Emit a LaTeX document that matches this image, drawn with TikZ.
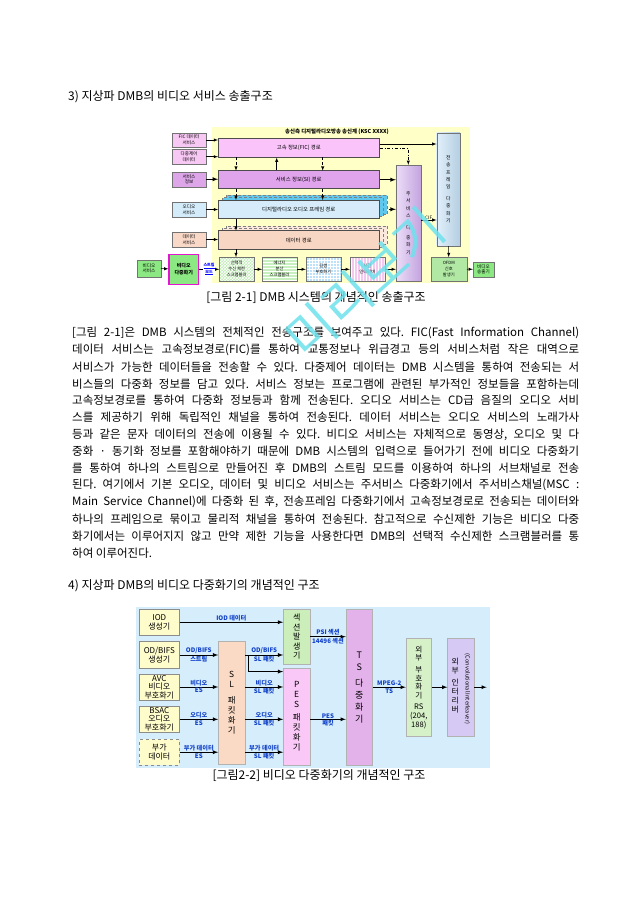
\documentclass[tikz,border=0pt]{standalone}
\usepackage{fontspec}
\setmainfont{Noto Sans CJK KR}
\usetikzlibrary{patterns}

\definecolor{ylwbg}{RGB}{255,255,200}
\definecolor{ficin}{RGB}{248,200,244}
\definecolor{siin}{RGB}{220,166,232}
\definecolor{audin}{RGB}{212,236,250}
\definecolor{datin}{RGB}{250,216,200}
\definecolor{ficc}{RGB}{250,196,250}
\definecolor{sic}{RGB}{224,164,236}
\definecolor{audc}{RGB}{214,236,250}
\definecolor{audsh}{RGB}{96,200,236}
\definecolor{datc}{RGB}{248,214,196}
\definecolor{datsh}{RGB}{252,232,220}
\definecolor{vgreen}{RGB}{140,232,130}
\definecolor{vmag}{RGB}{230,20,210}
\definecolor{scag}{RGB}{190,236,180}
\definecolor{engg}{RGB}{200,240,190}
\definecolor{cnvb}{RGB}{190,225,250}
\definecolor{tilp}{RGB}{245,200,240}
\definecolor{msmL}{RGB}{236,222,248}
\definecolor{msmR}{RGB}{196,164,224}
\definecolor{tfmL}{RGB}{226,240,250}
\definecolor{tfmR}{RGB}{180,206,226}
\definecolor{ofdmg}{RGB}{176,232,164}
\definecolor{wmcyan}{RGB}{110,226,236}
\definecolor{blubg}{RGB}{214,238,252}
\definecolor{ylwbox}{RGB}{255,252,204}
\definecolor{slc}{RGB}{250,218,196}
\definecolor{secc}{RGB}{204,238,186}
\definecolor{pesc}{RGB}{250,200,246}
\definecolor{tsc}{RGB}{228,178,234}
\definecolor{rsc}{RGB}{214,240,200}
\definecolor{itlc}{RGB}{214,202,244}
\definecolor{lblue}{RGB}{16,64,200}

\tikzset{
  bodytxt/.style={inner sep=0pt, font=\fontsize{11.5}{13}\selectfont\frenchspacing},
  headtxt/.style={inner sep=0pt, font=\fontsize{12}{13}\selectfont},
  inbox/.style={draw=black!55, line width=0.3pt, minimum width=34pt, align=center, inner sep=0pt,
    font=\fontsize{4.6}{5.6}\selectfont},
  pathbox/.style={draw=black!70, line width=0.5pt, minimum width=161pt, inner sep=0pt,
    font=\fontsize{5.4}{6}\selectfont},
  rowbox/.style={draw=black!55, line width=0.3pt, minimum width=34.7pt, minimum height=24pt,
    align=center, inner sep=0pt, font=\fontsize{4.3}{6}\selectfont},
  tallbox/.style={draw=black!55, line width=0.3pt, align=center, inner sep=0pt,
    font=\fontsize{4.8}{7.2}\selectfont},
  thin/.style={->, line width=0.5pt},
  srcbox/.style={draw=black!45, line width=0.4pt, fill=ylwbox, minimum width=40pt, align=center,
    inner sep=0pt, font=\fontsize{8}{8.6}\selectfont},
  stackbox/.style={draw=black!30, line width=0.4pt, align=center, inner sep=0pt,
    font=\fontsize{8.4}{10}\selectfont},
  conn/.style={->, line width=0.8pt},
  lbl/.style={text=lblue, inner sep=0.8pt, font=\fontsize{6.2}{6.6}\selectfont\bfseries}
}

\newcommand\bodyline[2]{\node[bodytxt, anchor=west] (b#1) at (72,{333+16.9*(#1-1)}) {\makebox[507pt][s]{#2}};}

\begin{document}
\begin{tikzpicture}[x=1pt, y=-1pt, >=latex]
\fill[white] (0,0) rectangle (640,905);
\useasboundingbox (0,0) rectangle (640,905);

\node[headtxt, anchor=west] (h1) at (68,97) {3) 지상파 DMB의 비디오 서비스 송출구조};

% ---- Figure 2-1 ----
\fill[ylwbg] (212,127) rectangle (470,283);
\node[font=\fontsize{5.4}{6}\selectfont\bfseries] (ttl) at (337,132) {송신측 디지털라디오방송 송신계 (KSC XXXX)};

\foreach \d in {8,4}{
  \draw[fill=audsh, draw=black!50, line width=0.3pt, densely dashed] (218.3+\d,200-0.6*\d) rectangle (379.3+\d,218.7-0.6*\d);
  \draw[fill=datsh, draw=black!50, line width=0.3pt, densely dashed] (218.3+\d,230.7-0.6*\d) rectangle (379.3+\d,249.3-0.6*\d);
}

\node[inbox, fill=ficin, minimum height=14.6pt] (fin) at (189,140) {FIC 데이터\\서비스};
\node[inbox, fill=ficin, minimum height=14.7pt] (mux) at (189,156.7) {다중제어\\데이터};
\node[inbox, fill=siin, minimum height=15pt] (sin) at (189,179.2) {서비스\\정보};
\node[inbox, fill=audin, minimum height=15.6pt] (ain) at (189,209.5) {오디오\\서비스};
\node[inbox, fill=datin, minimum height=15.6pt] (din) at (189,239.5) {데이터\\서비스};

\node[pathbox, fill=ficc, minimum height=19pt] (fic) at (298.8,147.8) {고속 정보(FIC) 경로};
\node[pathbox, fill=sic, minimum height=18pt] (si) at (298.8,179.7) {서비스 정보(SI) 경로};
\node[pathbox, fill=audc, minimum height=18.7pt] (aud) at (298.8,209.3) {디지털라디오 오디오 프레임 경로};
\node[pathbox, fill=datc, minimum height=18.6pt] (dat) at (298.8,240) {데이터 경로};

\node[rowbox, preaction={fill=scag}, pattern=crosshatch, pattern color=white] (sca) at (236.7,269.3) {선택적\\수신 제한\\스크램블러};
\node[rowbox, preaction={fill=engg}, pattern=horizontal lines, pattern color=white] (eng) at (279.5,269.3) {에너지\\분산\\스크램블러};
\node[rowbox, preaction={fill=cnvb}, pattern=grid, pattern color=white] (cnv) at (323.3,269.3) {길쌈\\부호화기};
\node[rowbox, preaction={fill=tilp}, pattern=vertical lines, pattern color=white] (til) at (367.3,269.3) {시간\\인터리버};

\node[tallbox, left color=msmL, right color=msmR, minimum width=24.7pt, minimum height=116.3pt] (msm) at (408.3,223.2) {주\\서\\비\\스\\[5pt]다\\[3pt]중\\화\\기};
\node[tallbox, left color=tfmL, right color=tfmR, minimum width=23.3pt, minimum height=113.3pt] (tfm) at (448.3,189.3) {전\\송\\프\\레\\임\\[5pt]다\\중\\화\\기};
\node[rowbox, fill=ofdmg, minimum width=35.7pt] (ofdm) at (448.8,269.3) {OFDM\\신호\\발생기};
\node[inbox, fill=vgreen, minimum width=21pt, minimum height=15pt] (vout) at (483.5,269.2) {비디오\\송출기};
\node[inbox, fill=vgreen, minimum width=23.4pt, minimum height=16.7pt] (vsrv) at (149,268.3) {비디오\\서비스};
\node[inbox, fill=vgreen, draw=vmag, line width=1.2pt, minimum width=29.3pt, minimum height=30pt,
  font=\fontsize{5}{6.6}\selectfont\bfseries] (vmux) at (183.7,269.3) {비디오\\다중화기};

\draw[thin] (fin.east) -- (fin.east -| fic.west);
\draw[thin] (mux.east) -- (mux.east -| fic.west);
\draw[->, line width=0.9pt] (sin.east) -- (sin.east -| si.west);
\draw[thin] (ain.east) -- (ain.east -| aud.west);
\draw[thin] (din.east) -- (din.east -| dat.west);

\draw[thin, densely dashed] (236,157.3) -- (236,170.7);
\draw[thin, densely dashed] (322.7,157.3) -- (322.7,170.7);
\draw[thin] (si.north -| 276.7,0) -- (fic.south -| 276.7,0);
\draw[thin, densely dashed] (236,188.7) -- (236,200);
\draw[thin, densely dashed] (322.7,188.7) -- (322.7,200);
\draw[thin] (236,218.7) -- (236,230.7);
\draw[thin] (236,249.3) -- (sca.north -| 236,0);

\draw[thin] ([yshift=3.8pt]fic.east) -- ([yshift=3.8pt]fic.east -| tfm.west);
\draw[thin, dash dot] ([yshift=-0.5pt]fic.east) -| (msm.north);
\draw[->, line width=0.9pt] (si.east) -- (si.east -| msm.west);
\draw[->, line width=0.9pt] ([xshift=9pt]aud.east) -- (aud.east -| msm.west);

\draw[thin] (sca) -- (eng);
\draw[thin] (eng) -- (cnv);
\draw[thin] (cnv) -- (til);
\draw[thin] (til.east) -- (til.east -| msm.west);
\draw[thin] (vsrv) -- (vmux);
\draw[thin] (vmux) -- (sca) node[midway, fill=white, text=blue, inner sep=0.4pt, align=center,
  font=\fontsize{4}{4.8}\selectfont\bfseries] (smd) {\underline{스트림}\\\underline{모드}};
\draw[thin] ([yshift=3.2pt]msm.east) -- ([yshift=3.2pt]msm.east -| tfm.west) node[midway, above, inner sep=0.6pt, font=\fontsize{4.6}{5}\selectfont] (cif) {CIF};
\draw[thin] (tfm) -- (ofdm);
\draw[thin] (ofdm) -- (vout);

\node[headtxt] (cap1) at (316,298) {[그림 2-1] DMB 시스템의 개념적인 송출구조};

% ---- body text ----
\bodyline{1}{[그림 2-1]은 DMB 시스템의 전체적인 전송구조를 보여주고 있다. FIC(Fast Information Channel)}
\bodyline{2}{데이터 서비스는 고속정보경로(FIC)를 통하여 교통정보나 위급경고 등의 서비스처럼 작은 대역으로}
\bodyline{3}{서비스가 가능한 데이터들을 전송할 수 있다. 다중제어 데이터는 DMB 시스템을 통하여 전송되는 서}
\bodyline{4}{비스들의 다중화 정보를 담고 있다. 서비스 정보는 프로그램에 관련된 부가적인 정보들을 포함하는데}
\bodyline{5}{고속정보경로를 통하여 다중화 정보등과 함께 전송된다. 오디오 서비스는 CD급 음질의 오디오 서비}
\bodyline{6}{스를 제공하기 위해 독립적인 채널을 통하여 전송된다. 데이터 서비스는 오디오 서비스의 노래가사}
\bodyline{7}{등과 같은 문자 데이터의 전송에 이용될 수 있다. 비디오 서비스는 자체적으로 동영상, 오디오 및 다}
\bodyline{8}{중화 · 동기화 정보를 포함해야하기 때문에 DMB 시스템의 입력으로 들어가기 전에 비디오 다중화기}
\bodyline{9}{를 통하여 하나의 스트림으로 만들어진 후 DMB의 스트림 모드를 이용하여 하나의 서브채널로 전송}
\bodyline{10}{된다. 여기에서 기본 오디오, 데이터 및 비디오 서비스는 주서비스 다중화기에서 주서비스채널(MSC :}
\bodyline{11}{Main Service Channel)에 다중화 된 후, 전송프레임 다중화기에서 고속정보경로로 전송되는 데이터와}
\bodyline{12}{하나의 프레임으로 묶이고 물리적 채널을 통하여 전송된다. 참고적으로 수신제한 기능은 비디오 다중}
\bodyline{13}{화기에서는 이루어지지 않고 만약 제한 기능을 사용한다면 DMB의 선택적 수신제한 스크램블러를 통}
\node[bodytxt, anchor=west] (b14) at (72,{333+16.9*13}) {하여 이루어진다.};

\node[headtxt, anchor=west] (h2) at (68,586) {4) 지상파 DMB의 비디오 다중화기의 개념적인 구조};

% ---- Figure 2-2 ----
\fill[blubg] (136,607) rectangle (490,768);

\node[srcbox, minimum height=25.7pt] (iod) at (159.3,622.2) {IOD\\생성기};
\node[srcbox, minimum height=26.7pt] (odb) at (159.3,655) {OD/BIFS\\생성기};
\node[srcbox, minimum height=26pt] (avc) at (159.3,687) {AVC\\비디오\\부호화기};
\node[srcbox, minimum height=26.7pt] (bsac) at (159.3,719.3) {BSAC\\오디오\\부호화기};
\node[srcbox, dashed, minimum height=25.7pt] (aux) at (159.3,752.2) {부가\\데이터};

\node[stackbox, fill=slc, minimum width=26.7pt, minimum height=122.3pt] (sl) at (231.7,702.8) {S\\L\\[6pt]패\\킷\\화\\기};
\node[stackbox, fill=secc, minimum width=26.7pt, minimum height=54.7pt, font=\fontsize{8}{9.4}\selectfont] (sec) at (296.7,636.7) {섹\\션\\발\\생\\기};
\node[stackbox, fill=pesc, minimum width=26.7pt, minimum height=96.7pt] (pes) at (296.7,716.7) {P\\E\\S\\[3pt]패\\킷\\화\\기};
\node[stackbox, fill=tsc, minimum width=26.7pt, minimum height=155.7pt, font=\fontsize{9}{12}\selectfont] (ts) at (359.3,687.2) {T\\S\\[4pt]다\\중\\화\\기};
\node[stackbox, fill=rsc, minimum width=25.7pt, minimum height=97.7pt, font=\fontsize{7.6}{8.6}\selectfont] (rs) at (418.8,687.2) {외\\부\\[3pt]부\\호\\화\\기\\[3pt]RS\\(204,\\188)};
\node[stackbox, fill=itlc, minimum width=26.5pt, minimum height=97.7pt] (itl) at (460.8,687.2) {};
\node[inner sep=0pt, align=center, font=\fontsize{7.8}{9}\selectfont] (itlk) at (455.3,686) {외\\부\\[3pt]인\\터\\리\\버};
\node[inner sep=0pt, rotate=-90, font=\fontsize{5.6}{6}\selectfont] (itle) at (467.3,689) {(Convolutional Interleaver)};
\coordinate (out) at (486.7,687.2);

\draw[conn] (iod.east) -- (iod.east -| sec.west) node[midway, above, lbl] {IOD 데이터};
\draw[conn] (odb.east) -- (odb.east -| sl.west) node[midway, above, lbl] {OD/BIFS} node[midway, below, lbl] {스트림};
\draw[conn] (avc.east) -- (avc.east -| sl.west) node[midway, above, lbl] {비디오} node[midway, below, lbl] {ES};
\draw[conn] (bsac.east) -- (bsac.east -| sl.west) node[midway, above, lbl] {오디오} node[midway, below, lbl] {ES};
\draw[conn] (aux.east) -- (aux.east -| sl.west) node[midway, above, lbl] {부가 데이터} node[midway, below, lbl] {ES};

\draw[conn] (odb.east -| sl.east) -- (odb.east -| sec.west) node[midway, above, lbl] {OD/BIFS} node[midway, below, lbl] {SL 패킷};
\coordinate (br) at ([xshift=3.3pt]odb.east -| sl.east);
\draw[conn] (br) |- ([yshift=-3.4pt]pes.north west);
\draw[conn] (avc.east -| sl.east) -- (avc.east -| pes.west) node[midway, above, lbl] {비디오} node[midway, below, lbl] {SL 패킷};
\draw[conn] (bsac.east -| sl.east) -- (bsac.east -| pes.west) node[midway, above, lbl] {오디오} node[midway, below, lbl] {SL 패킷};
\draw[conn] (aux.east -| sl.east) -- (aux.east -| pes.west) node[midway, above, lbl] {부가 데이터} node[midway, below, lbl] {SL 패킷};

\draw[conn] (sec.east) -- (sec.east -| ts.west) node[midway, above, lbl] {PSI 섹션} node[midway, below, lbl] {14496 섹션};
\draw[conn] (bsac.east -| pes.east) -- (bsac.east -| ts.west) node[midway, above, lbl] {PES} node[midway, below, lbl] {패킷};
\draw[conn] (ts.east) -- (rs.west) node[midway, above, lbl] {MPEG-2} node[midway, below, lbl] {TS};
\draw[conn] (rs) -- (itl);
\draw[conn] (itl) -- (out);

\node[headtxt] (cap2) at (319,776) {[그림2-2] 비디오 다중화기의 개념적인 구조};

% watermark
\node[rotate=42, text=wmcyan, opacity=0.85, font=\fontsize{52}{52}\selectfont] (wm) at (365,283) {미리보기};
\end{tikzpicture}
\end{document}
